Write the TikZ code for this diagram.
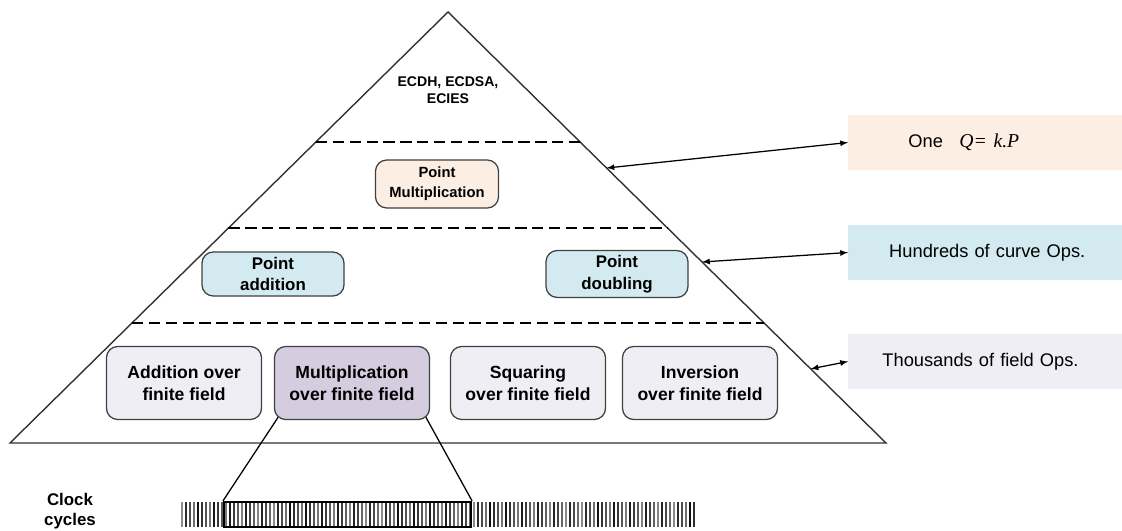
\documentclass[tikz,border=0pt]{standalone}
\usepackage{fontspec}
\setmainfont{Liberation Sans}
\newfontfamily\formulafont{Liberation Serif}
\usepackage{amsmath}
\usetikzlibrary{arrows,calc}

\definecolor{peach}{HTML}{FDEEE3}
\definecolor{curveblue}{HTML}{D2EAF0}
\definecolor{fieldgray}{HTML}{F0EEF5}
\definecolor{mulpurple}{HTML}{D5CCE0}

\begin{document}
\begin{tikzpicture}[x=0.025cm,y=-0.025cm,semithick,>=latex,
                    every text node part/.style={align=center}]
  \tikzstyle{opbox}=[draw=black!75,line width=0.9pt,rounded corners=8pt]
  \tikzstyle{fieldbox}=[opbox,fill=fieldgray,minimum width=3.875cm,minimum height=1.825cm,
                        font=\fontsize{12.5}{16}\selectfont\bfseries]
  \tikzstyle{curvebox}=[opbox,fill=curveblue,minimum width=3.55cm,minimum height=1.1cm,
                        font=\fontsize{12}{15.5}\selectfont\bfseries]
  \tikzstyle{sidebox}=[fill,anchor=west,minimum height=1.375cm,inner xsep=0pt,text width=6.85cm,
                       every text node part/.style={align=left},font=\fontsize{13}{15}\selectfont]
  \tikzstyle{layer}=[line width=1.2pt,dash pattern=on 8pt off 4pt]

  \useasboundingbox (0,0) rectangle (1122,531);

  % pyramid and its layers
  \coordinate (top) at (448,12);
  \coordinate (bl) at (10,443);
  \coordinate (br) at (886,443);
  \draw[black!80,line width=1pt] (top) -- (bl) -- (br) -- cycle;
  \foreach \t in {0.3016,0.5012,0.7216}
    \draw[layer] ($(top)!\t!(bl)$) -- ($(top)!\t!(br)$);

  \node[font=\fontsize{10}{12}\selectfont\bfseries] (proto) at (448,90) {ECDH, ECDSA,\\ECIES};
  \node[opbox,fill=peach,minimum width=3.075cm,minimum height=1.2cm,
        font=\fontsize{10.5}{14}\selectfont\bfseries] (pmul) at (437,184) {Point\\Multiplication};

  \node[curvebox] (padd) at (273,274) {Point\\addition};
  \node[curvebox] (pdbl) at (617,274) {Point\\doubling};

  \node[fieldbox]                (addff) at (184,383) {Addition over\\finite field};
  \node[fieldbox,fill=mulpurple] (mulff) at (352,383) {Multiplication\\over finite field};
  \node[fieldbox]                (sqrff) at (528,383) {Squaring\\over finite field};
  \node[fieldbox]                (invff) at (700,383) {Inversion\\over finite field};

  % side notes
  \node[sidebox,fill=peach] (one) at (848,142.5)
    {\hspace*{1.5cm}One\hspace{0.9em}{\formulafont\itshape\fontsize{14}{15}\selectfont Q=\,\,k.P}};
  \node[sidebox,fill=curveblue] (hund) at (848,252.5) {\hspace*{1.02cm}Hundreds of curve Ops.};
  \node[sidebox,fill=fieldgray] (thou) at (848,361.5) {\hspace*{0.85cm}Thousands of field Ops.};

  \coordinate (e1) at ($(top)!0.362!(br)$);
  \coordinate (e2) at ($(top)!0.58!(br)$);
  \coordinate (e3) at ($(top)!0.828!(br)$);
  \path[<->,line width=0.9pt] (e1) edge (one.west)
                              (e2) edge (hund.west)
                              (e3) edge (thou.west);

  % clock cycles
  \node[font=\fontsize{12}{14}\selectfont\bfseries] (clock) at (70,511) {Clock\\cycles};
  \foreach \i in {0,...,128} {
    \pgfmathsetmacro\barshade{int(45+mod(\i*37,50))}
    \draw[black!\barshade,line width=1.1pt] (182+4*\i,502) -- (182+4*\i,527);
  }
  \node[draw,line width=1.5pt,minimum width=6.175cm,minimum height=0.625cm,inner sep=0pt] (clk) at (347.5,514.5) {};
  \draw[line width=0.9pt] ([shift={(3pt,2pt)}]mulff.south west) -- (clk.north west);
  \draw[line width=0.9pt] ([shift={(-3pt,2pt)}]mulff.south east) -- (clk.north east);
\end{tikzpicture}
\end{document}
